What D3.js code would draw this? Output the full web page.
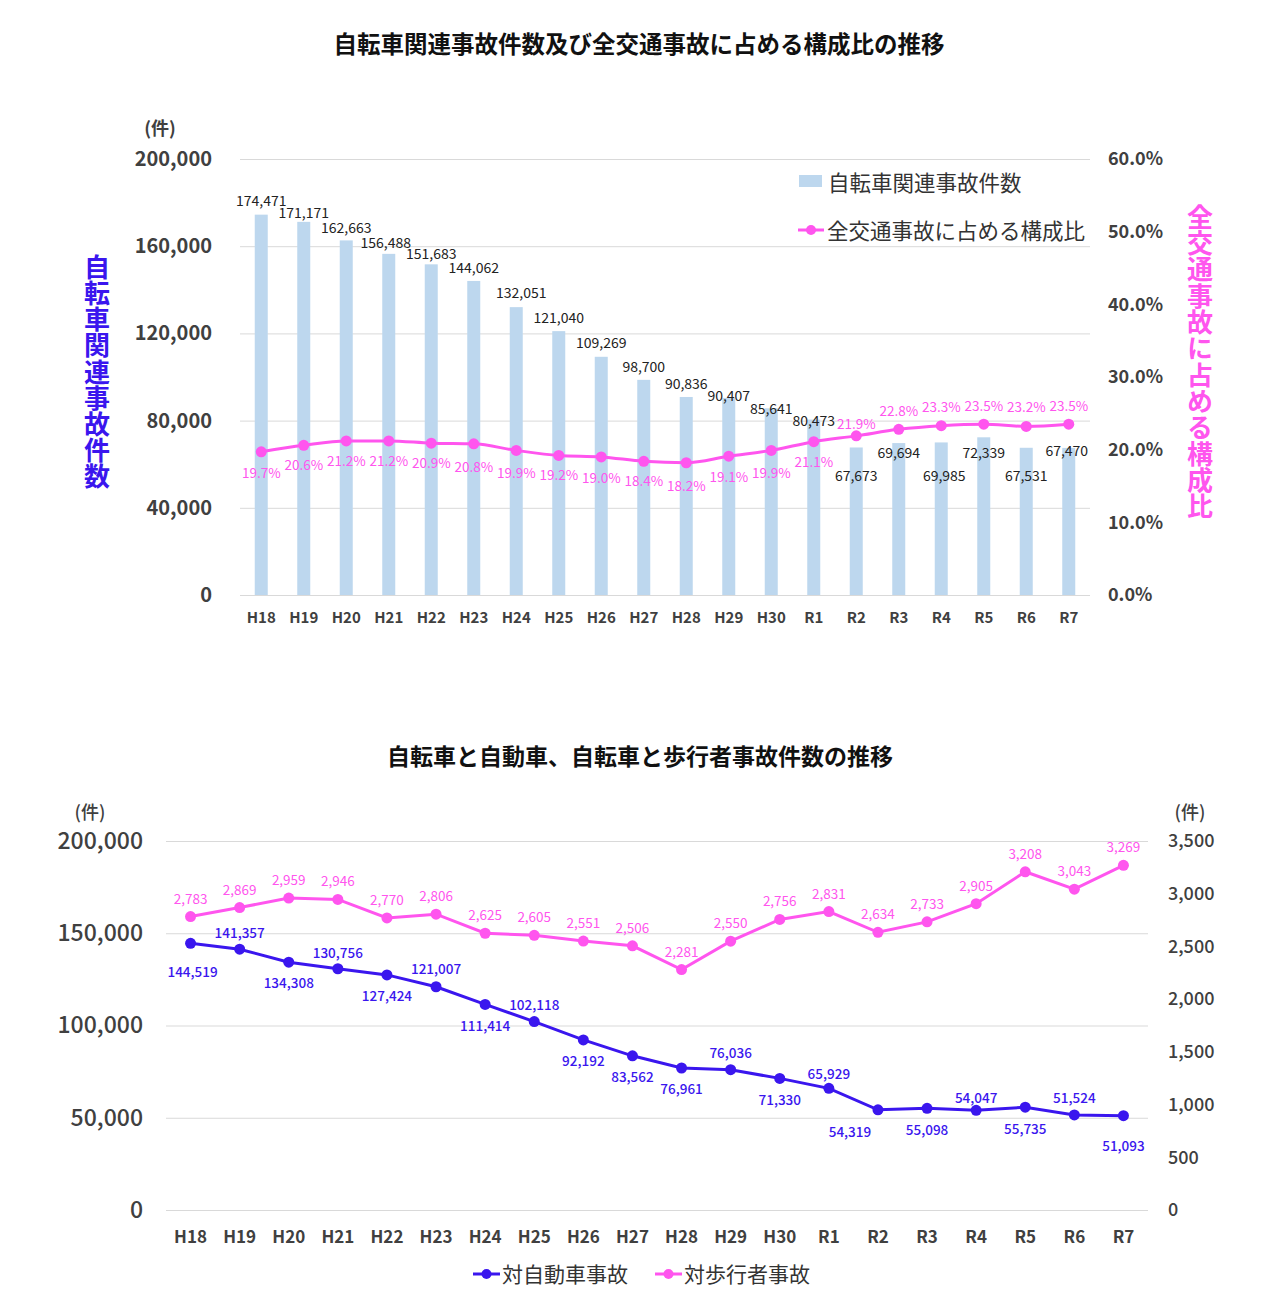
<!DOCTYPE html>
<html><head><meta charset="utf-8">
<script src="https://cdn.jsdelivr.net/npm/d3@7"></script>
<style>
html,body{margin:0;padding:0;background:#fff;}
svg{display:block;font-family:"Noto Sans CJK JP","Noto Sans",sans-serif;}
</style></head>
<body><svg id="c" width="1280" height="1296"></svg>
<script>
// ---------- DATA ----------
const categories = ["H18","H19","H20","H21","H22","H23","H24","H25","H26","H27","H28","H29","H30","R1","R2","R3","R4","R5","R6","R7"];
const bicycleAccidents = [174471,171171,162663,156488,151683,144062,132051,121040,109269,98700,90836,90407,85641,80473,67673,69694,69985,72339,67531,67470];
const shareOfAll = [19.7,20.6,21.2,21.2,20.9,20.8,19.9,19.2,19.0,18.4,18.2,19.1,19.9,21.1,21.9,22.8,23.3,23.5,23.2,23.5];
const vsCar = [144519,141357,134308,130756,127424,121007,111414,102118,92192,83562,76961,76036,71330,65929,54319,55098,54047,55735,51524,51093];
const vsPedestrian = [2783,2869,2959,2946,2770,2806,2625,2605,2551,2506,2281,2550,2756,2831,2634,2733,2905,3208,3043,3269];
const leftTicks1 = [0,40000,80000,120000,160000,200000];
const rightTicks1 = [0,0.1,0.2,0.3,0.4,0.5,0.6];
const leftTicks2 = [0,50000,100000,150000,200000];
const rightTicks2 = [0,500,1000,1500,2000,2500,3000,3500];
const title1 = "自転車関連事故件数及び全交通事故に占める構成比の推移";
const title2 = "自転車と自動車、自転車と歩行者事故件数の推移";
const seriesNames1 = ["自転車関連事故件数","全交通事故に占める構成比"];
const seriesNames2 = ["対自動車事故","対歩行者事故"];
const unitLabel = "(件)";

// label placement tweaks (vertical offset of label centre from mark, px)
const barLabelDy = [-15,-10,-13,-12,-11,-14,-15,-14,-15,-14,-14,-3,0,0,28,9,33,15,27,2];
const barLabelDx = [0,0,0,-3,0,0,5,0,0,0,0,0,0,0,0,0,3,0,0,-2];
const pctLabelDy = [20,19,19,19,19,22,22,19,20,19,22,20,22,19,-13,-19,-20,-19,-20,-19];
const carLabelDy = [28,-17,20,-17,20,-19,21,-18,20,20,20,-18,21,-15,21,21,-13,21,-18,29];
const carLabelDx = [2,0,0,0,0,0,0,0,0,0,0,0,0,0,-28,0,0,0,0,0];
const pedLabelDy = -19;

// ---------- STYLE ----------
const BAR = "#bdd7ee", PINK = "#ff55ee", BLUE = "#3a16ee", GRID = "#d9d9d9", TICK = "#404040";

const svg = d3.select("#c");
svg.append("rect").attr("width",1280).attr("height",1296).attr("fill","#fff");

function styleAxis(g, size, weight){
  g.select(".domain").remove();
  g.selectAll(".tick line").attr("stroke",GRID);
  g.selectAll(".tick text").attr("fill",TICK).attr("font-size",size).attr("font-weight",weight)
    .attr("font-family",'"Noto Sans CJK JP","Noto Sans",sans-serif');
}
function verticalText(str, x, yTop, color, size, spacing){
  svg.append("text").attr("x",x).attr("y",yTop)
    .attr("style",`writing-mode: vertical-rl; text-orientation: upright; letter-spacing:${spacing}px`)
    .attr("font-size",size).attr("font-weight","bold").attr("fill",color).text(str);
}

// ================= CHART 1 =================
const x1 = d3.scaleBand().domain(categories).range([240,1090]).padding(0);
const y1 = d3.scaleLinear().domain([0,200000]).range([595,159]);
const y1r = d3.scaleLinear().domain([0,0.6]).range([595,159]);
const cx1 = d => x1(d) + x1.bandwidth()/2;

svg.append("text").attr("x",639).attr("y",53).attr("text-anchor","middle")
  .attr("font-size",23.5).attr("font-weight","bold").attr("fill","#111").text(title1);

svg.append("g").attr("transform","translate(240,0)")
  .call(d3.axisLeft(y1).tickValues(leftTicks1).tickFormat(d3.format(",")).tickSize(-850).tickPadding(28))
  .call(g=>styleAxis(g,20,"bold"));
svg.append("g").attr("transform","translate(1090,0)")
  .call(d3.axisRight(y1r).tickValues(rightTicks1).tickFormat(d3.format(".1%")).tickSize(0).tickPadding(18))
  .call(g=>styleAxis(g,18,"bold"));
svg.append("g").attr("transform","translate(0,595)")
  .call(d3.axisBottom(x1).tickSize(0).tickPadding(17))
  .call(g=>styleAxis(g,15,"bold"));

svg.append("text").attr("x",160).attr("y",135).attr("text-anchor","middle")
  .attr("font-size",18).attr("font-weight","bold").attr("fill",TICK).text(unitLabel);

verticalText(seriesNames1[0], 97, 254, BLUE, 26, 0.2);
verticalText(seriesNames1[1], 1200, 204, PINK, 26, 0.3);

// bars
const bw = 13;
svg.append("g").selectAll("rect").data(bicycleAccidents).join("rect")
  .attr("x",(d,i)=>cx1(categories[i]) - bw/2).attr("width",bw)
  .attr("y",d=>y1(d)).attr("height",d=>595 - y1(d)).attr("fill",BAR);

svg.append("g").selectAll("text").data(bicycleAccidents).join("text")
  .attr("x",(d,i)=>cx1(categories[i]) + barLabelDx[i])
  .attr("y",(d,i)=>y1(d) + barLabelDy[i])
  .attr("dominant-baseline","central").attr("text-anchor","middle")
  .attr("font-size",14).attr("fill","#222").text(d=>d3.format(",")(d));

// share line
const line1 = d3.line().x((d,i)=>cx1(categories[i])).y(d=>y1r(d/100)).curve(d3.curveMonotoneX);
svg.append("path").datum(shareOfAll).attr("d",line1).attr("fill","none").attr("stroke",PINK).attr("stroke-width",3);
svg.append("g").selectAll("circle").data(shareOfAll).join("circle")
  .attr("cx",(d,i)=>cx1(categories[i])).attr("cy",d=>y1r(d/100)).attr("r",5.5).attr("fill",PINK);
svg.append("g").selectAll("text").data(shareOfAll).join("text")
  .attr("x",(d,i)=>cx1(categories[i])).attr("y",(d,i)=>y1r(d/100)+pctLabelDy[i])
  .attr("dominant-baseline","central").attr("text-anchor","middle")
  .attr("font-size",13.5).attr("fill",PINK).text(d=>d.toFixed(1)+"%");

// legend 1
const lg1 = svg.append("g");
lg1.append("rect").attr("x",799).attr("y",175).attr("width",23).attr("height",12).attr("fill",BAR);
lg1.append("text").attr("x",828).attr("y",181).attr("dominant-baseline","central")
  .attr("font-size",21.5).attr("fill","#333").text(seriesNames1[0]);
lg1.append("line").attr("x1",798).attr("x2",824).attr("y1",230).attr("y2",230).attr("stroke",PINK).attr("stroke-width",3);
lg1.append("circle").attr("cx",811).attr("cy",230).attr("r",5).attr("fill",PINK);
lg1.append("text").attr("x",827).attr("y",229).attr("dominant-baseline","central")
  .attr("font-size",21.5).attr("fill","#333").text(seriesNames1[1]);

// ================= CHART 2 =================
const x2 = d3.scaleBand().domain(categories).range([166,1148]).padding(0);
const y2 = d3.scaleLinear().domain([0,200000]).range([1210,841]);
const y2r = d3.scaleLinear().domain([0,3500]).range([1210,841]);
const cx2 = d => x2(d) + x2.bandwidth()/2;

svg.append("text").attr("x",640).attr("y",765).attr("text-anchor","middle")
  .attr("font-size",23).attr("font-weight","bold").attr("fill","#111").text(title2);

svg.append("g").attr("transform","translate(166,0)")
  .call(d3.axisLeft(y2).tickValues(leftTicks2).tickFormat(d3.format(",")).tickSize(-982).tickPadding(23))
  .call(g=>styleAxis(g,23,"500"));
svg.append("g").attr("transform","translate(1148,0)")
  .call(d3.axisRight(y2r).tickValues(rightTicks2).tickFormat(d3.format(",")).tickSize(0).tickPadding(20))
  .call(g=>styleAxis(g,18,"500"));
svg.append("g").attr("transform","translate(0,1210)")
  .call(d3.axisBottom(x2).tickSize(0).tickPadding(21))
  .call(g=>styleAxis(g,17,"bold"));

svg.append("text").attr("x",90).attr("y",819).attr("text-anchor","middle")
  .attr("font-size",18).attr("font-weight","500").attr("fill",TICK).text(unitLabel);
svg.append("text").attr("x",1190).attr("y",819).attr("text-anchor","middle")
  .attr("font-size",18).attr("font-weight","500").attr("fill",TICK).text(unitLabel);

// pedestrian line (right axis)
const linePed = d3.line().x((d,i)=>cx2(categories[i])).y(d=>y2r(d));
svg.append("path").datum(vsPedestrian).attr("d",linePed).attr("fill","none").attr("stroke",PINK).attr("stroke-width",3);
svg.append("g").selectAll("circle").data(vsPedestrian).join("circle")
  .attr("cx",(d,i)=>cx2(categories[i])).attr("cy",d=>y2r(d)).attr("r",5.5).attr("fill",PINK);
svg.append("g").selectAll("text").data(vsPedestrian).join("text")
  .attr("x",(d,i)=>cx2(categories[i])).attr("y",d=>y2r(d)+pedLabelDy)
  .attr("dominant-baseline","central").attr("text-anchor","middle")
  .attr("font-size",13.5).attr("fill",PINK).text(d=>d3.format(",")(d));

// car line (left axis)
const lineCar = d3.line().x((d,i)=>cx2(categories[i])).y(d=>y2(d));
svg.append("path").datum(vsCar).attr("d",lineCar).attr("fill","none").attr("stroke",BLUE).attr("stroke-width",3);
svg.append("g").selectAll("circle").data(vsCar).join("circle")
  .attr("cx",(d,i)=>cx2(categories[i])).attr("cy",d=>y2(d)).attr("r",5.5).attr("fill",BLUE);
svg.append("g").selectAll("text").data(vsCar).join("text")
  .attr("x",(d,i)=>cx2(categories[i])+carLabelDx[i]).attr("y",(d,i)=>y2(d)+carLabelDy[i])
  .attr("dominant-baseline","central").attr("text-anchor","middle")
  .attr("font-size",13.5).attr("font-weight","500").attr("fill",BLUE).text(d=>d3.format(",")(d));

// legend 2
const lg2 = svg.append("g");
[[BLUE,473,seriesNames2[0]],[PINK,655,seriesNames2[1]]].forEach(([c,x,t])=>{
  lg2.append("line").attr("x1",x).attr("x2",x+27).attr("y1",1274).attr("y2",1274).attr("stroke",c).attr("stroke-width",3);
  lg2.append("circle").attr("cx",x+13.5).attr("cy",1274).attr("r",5).attr("fill",c);
  lg2.append("text").attr("x",x+29).attr("y",1273).attr("dominant-baseline","central")
    .attr("font-size",21).attr("fill","#333").text(t);
});
</script></body></html>
